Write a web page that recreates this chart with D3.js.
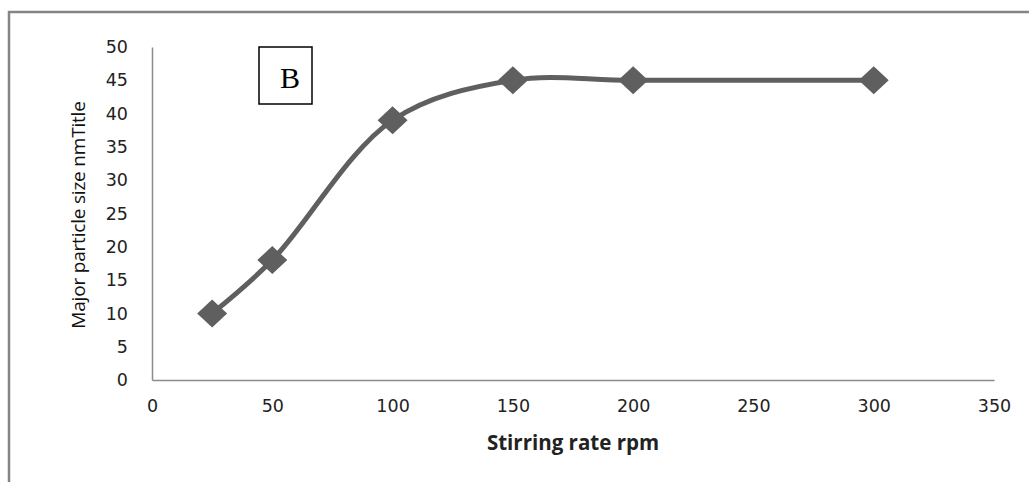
<!DOCTYPE html>
<html>
<head>
<meta charset="utf-8">
<script src="https://d3js.org/d3.v7.min.js"></script>
<style>
  body { margin: 0; background: #fff; }
  svg { display: block; }
  .tick text { font-family: "DejaVu Sans", sans-serif; font-size: 17.5px; fill: #222; }
</style>
</head>
<body>
<svg width="1029" height="482"></svg>
<script>
// stirring rate (rpm) vs major particle size (nm)
var rates = [25, 50, 100, 150, 200, 300];
var sizes = [10, 18, 39, 45, 45, 45];
var xTicks = [0, 50, 100, 150, 200, 250, 300, 350];
var yTicks = [0, 5, 10, 15, 20, 25, 30, 35, 40, 45, 50];

var svg = d3.select("svg");

// outer frame (runs off the right and bottom edges)
svg.append("rect")
    .attr("x", 9).attr("y", 12)
    .attr("width", 1040).attr("height", 500)
    .attr("fill", "none")
    .attr("stroke", "#858585")
    .attr("stroke-width", 2.5);

var x = d3.scaleLinear().domain([0, 350]).range([152, 994]);
var y = d3.scaleLinear().domain([0, 50]).range([380, 47]);

var xAxis = svg.append("g")
    .attr("transform", "translate(0," + y(0) + ")")
    .call(d3.axisBottom(x).tickValues(xTicks).tickSize(0).tickPadding(20));
xAxis.select(".domain").attr("stroke", "#8c8c8c").attr("stroke-width", 1.5);
xAxis.selectAll(".tick line").remove();

var yAxis = svg.append("g")
    .attr("transform", "translate(" + x(0) + ",0)")
    .call(d3.axisLeft(y).tickValues(yTicks).tickSize(0).tickPadding(24));
yAxis.select(".domain").attr("stroke", "#8c8c8c").attr("stroke-width", 1.5);
yAxis.selectAll(".tick line").remove();

// axis titles
svg.append("text")
    .attr("x", 573).attr("y", 450)
    .attr("text-anchor", "middle")
    .attr("font-family", "'Open Sans', Lato, sans-serif")
    .attr("font-weight", "bold")
    .attr("font-size", 20.5)
    .attr("fill", "#222")
    .text("Stirring rate rpm");

svg.append("text")
    .attr("transform", "translate(85,215) rotate(-90)")
    .attr("text-anchor", "middle")
    .attr("font-family", "'Open Sans', Lato, sans-serif")
    .attr("font-size", 19)
    .attr("letter-spacing", "-0.2px")
    .attr("fill", "#111")
    .text("Major particle size nmTitle");

// smoothed line
var pts = rates.map(function(r, i) { return [r, sizes[i]]; });
var line = d3.line()
    .x(function(d) { return x(d[0]); })
    .y(function(d) { return y(d[1]); })
    .curve(d3.curveCatmullRom);

svg.append("path")
    .datum(pts)
    .attr("d", line)
    .attr("fill", "none")
    .attr("stroke", "#5f5f5f")
    .attr("stroke-width", 5);

// diamond markers
svg.append("g")
  .selectAll("path")
  .data(pts)
  .enter().append("path")
    .attr("transform", function(d) { return "translate(" + x(d[0]) + "," + y(d[1]) + ")"; })
    .attr("d", "M0,-14L15,0L0,14L-15,0Z")
    .attr("fill", "#5f5f5f");

// panel label
svg.append("rect")
    .attr("x", 259).attr("y", 47)
    .attr("width", 53).attr("height", 57)
    .attr("fill", "#fff")
    .attr("stroke", "#000")
    .attr("stroke-width", 1.5);

svg.append("text")
    .attr("x", 290).attr("y", 88)
    .attr("text-anchor", "middle")
    .attr("font-family", "'Liberation Serif', serif")
    .attr("font-size", 30)
    .attr("fill", "#000")
    .text("B");
</script>
</body>
</html>
